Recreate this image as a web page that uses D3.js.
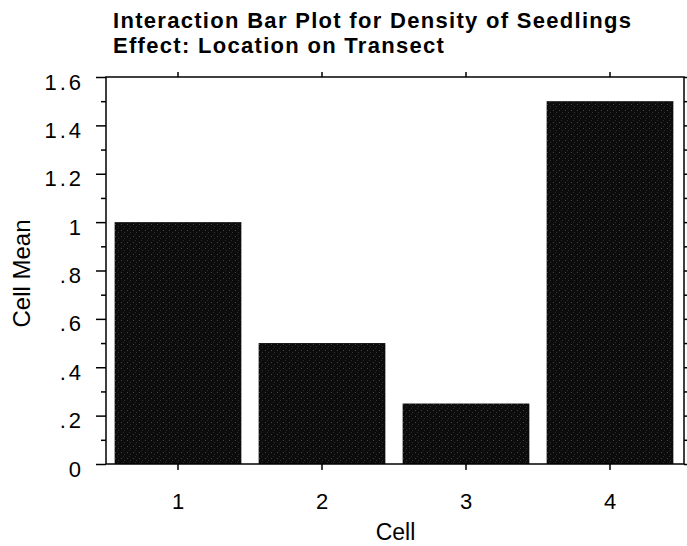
<!DOCTYPE html>
<html>
<head>
<meta charset="utf-8">
<script src="https://cdn.jsdelivr.net/npm/d3@7"></script>
<style>
  body { margin: 0; background: #fff; }
  svg { display: block; font-family: "Liberation Sans", Arial, Helvetica, sans-serif; }
</style>
</head>
<body>
<svg id="chart"></svg>
<script>
// data
var cells = ["1", "2", "3", "4"];
var cellMeans = [1.0, 0.5, 0.25, 1.5];
var yTicks = [0, 0.2, 0.4, 0.6, 0.8, 1.0, 1.2, 1.4, 1.6];
var yTickLabels = ["0", ".2", ".4", ".6", ".8", "1", "1.2", "1.4", "1.6"];
var yMinor = [0.1, 0.3, 0.5, 0.7, 0.9, 1.1, 1.3, 1.5];
var titleLines = ["Interaction Bar Plot for Density of Seedlings", "Effect: Location on Transect"];

var width = 687, height = 546;
var margin = {top: 77, right: 2, bottom: 82, left: 106};

var svg = d3.select("#chart")
  .attr("width", width)
  .attr("height", height)
  .attr("viewBox", [0, 0, width, height]);

// speckled dark fill like the scanned bars
var pat = svg.append("defs").append("pattern")
  .attr("id", "speckle")
  .attr("patternUnits", "userSpaceOnUse")
  .attr("width", 6).attr("height", 6);
pat.append("rect").attr("width", 6).attr("height", 6).attr("fill", "#0c0c0c");
pat.append("rect").attr("x", 1).attr("y", 2).attr("width", 1).attr("height", 1).attr("fill", "#444");
pat.append("rect").attr("x", 4).attr("y", 4).attr("width", 1).attr("height", 1).attr("fill", "#333");
pat.append("rect").attr("x", 3).attr("y", 0).attr("width", 1).attr("height", 1).attr("fill", "#282828");

var x = d3.scaleBand()
  .domain(cells)
  .range([margin.left, 682])
  .paddingInner(0.12)
  .paddingOuter(0.06);

var y = d3.scaleLinear()
  .domain([0, 1.6])
  .range([height - margin.bottom, margin.top]);

var x0 = margin.left, x1 = width - margin.right;
var y0 = y(0), y1 = y(1.6);

// bars
svg.append("g")
  .selectAll("rect")
  .data(cells)
  .join("rect")
    .attr("x", d => x(d))
    .attr("y", (d, i) => y(cellMeans[i]))
    .attr("width", x.bandwidth())
    .attr("height", (d, i) => y(0) - y(cellMeans[i]))
    .attr("fill", "url(#speckle)");

// frame
svg.append("rect")
  .attr("x", x0).attr("y", y1)
  .attr("width", x1 - x0 - 1).attr("height", y0 - y1)
  .attr("fill", "none")
  .attr("stroke", "#000")
  .attr("stroke-width", 1.5);

function strip(g) {
  g.select(".domain").remove();
  g.selectAll(".tick line").attr("stroke", "#000").attr("stroke-width", 1.5);
}

// left axis, major
svg.append("g")
  .attr("transform", `translate(${x0},0)`)
  .call(d3.axisLeft(y)
    .tickValues(yTicks)
    .tickSize(10)
    .tickPadding(12)
    .tickFormat((d, i) => yTickLabels[i]))
  .call(strip)
  .call(g => g.selectAll(".tick text")
    .attr("fill", "#000")
    .attr("font-size", 22)
    .attr("letter-spacing", 3)
    .attr("dy", "0.55em"));

// left axis, minor
svg.append("g")
  .attr("transform", `translate(${x0},0)`)
  .call(d3.axisLeft(y).tickValues(yMinor).tickSize(5).tickFormat(""))
  .call(strip);

// right axis, all tenths
svg.append("g")
  .attr("transform", `translate(${x1 - 1},0)`)
  .call(d3.axisRight(y).tickValues(yMinor.concat(yTicks)).tickSize(6).tickFormat(""))
  .call(strip);

// bottom axis
svg.append("g")
  .attr("transform", `translate(0,${y0})`)
  .call(d3.axisBottom(x).tickSize(6).tickPadding(23))
  .call(strip)
  .call(g => g.selectAll(".tick text")
    .attr("fill", "#000")
    .attr("font-size", 22));

// top axis
svg.append("g")
  .attr("transform", `translate(0,${y1})`)
  .call(d3.axisTop(x).tickSize(5).tickFormat(""))
  .call(strip);

// axis titles
svg.append("text")
  .attr("x", (x0 + x1) / 2)
  .attr("y", 540)
  .attr("text-anchor", "middle")
  .attr("font-size", 23)
  .text("Cell");

svg.append("text")
  .attr("transform", `translate(30,${(y0 + y1) / 2 + 3}) rotate(-90)`)
  .attr("text-anchor", "middle")
  .attr("font-size", 24)
  .text("Cell Mean");

// title
svg.append("g")
  .selectAll("text")
  .data(titleLines)
  .join("text")
    .attr("x", 113)
    .attr("y", (d, i) => 28 + i * 25)
    .attr("font-size", 22)
    .attr("font-weight", "bold")
    .attr("letter-spacing", 1.3)
    .text(d => d);
</script>
</body>
</html>
